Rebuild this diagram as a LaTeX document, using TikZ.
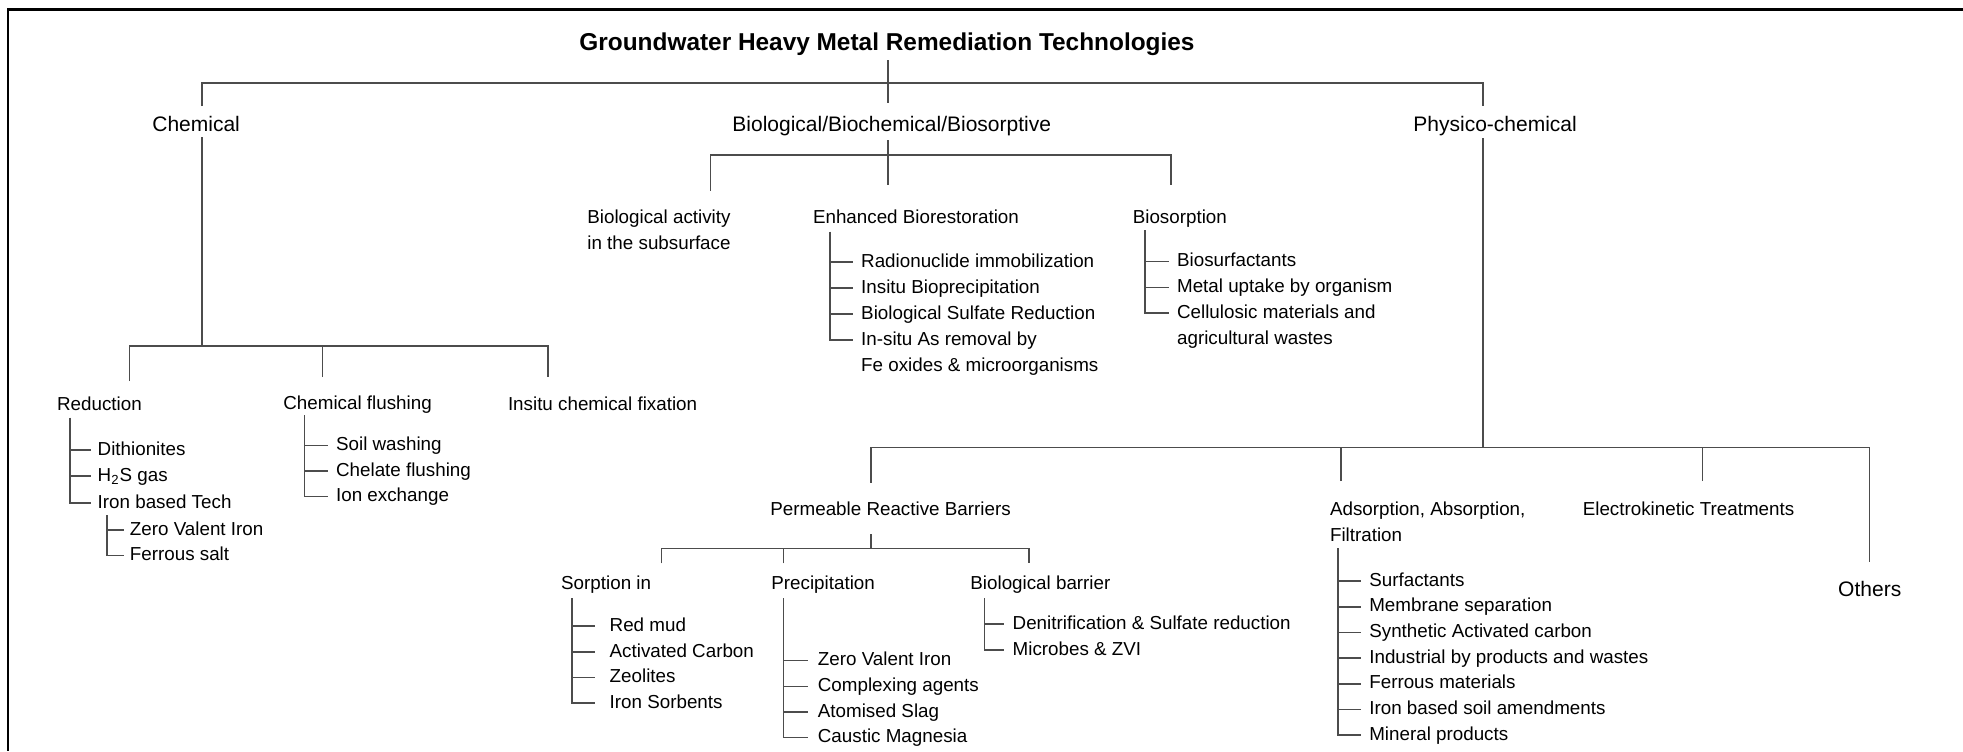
\documentclass[tikz,border=0pt]{standalone}
\usepackage{fontspec}
\setmainfont{Liberation Sans}
\newcommand{\twoln}[2]{\vtop{\hbox{#1}\hbox{#2}}}
\tikzset{
  lbl/.style={anchor=base west, inner sep=0pt, text height=7pt, text depth=2pt,
    font=\fontsize{9.4}{13}\selectfont},
  head/.style={lbl, font=\fontsize{10.5}{13}\selectfont},
  link/.style={draw=black!70, line width=0.8pt},
}
\begin{document}
\begin{tikzpicture}[x=0.5pt, y=-0.5pt]
  \useasboundingbox (0,0) rectangle (1963,751);
  \draw[line width=1.3pt] (1963,9.5) -- (8,9.5) -- (8,751);

  \node[lbl, font=\bfseries\fontsize{12.2}{14}\selectfont] (ttl) at (579,50) {Groundwater Heavy Metal Remediation Technologies};
  \node[head] (chem) at (152,131.7) {Chemical};
  \node[head] (bio) at (732,131.7) {Biological/Biochemical/Biosorptive};
  \node[head] (phys) at (1413,131.7) {Physico-chemical};

  \node[lbl] (redu) at (56.7,410) {Reduction};
  \node[lbl] (flush) at (283,409) {Chemical flushing};
  \node[lbl] (fix) at (507.6,410) {Insitu chemical fixation};
  \node[lbl] (dith) at (97.3,455) {Dithionites};
  \node[lbl] (h2s) at (97.3,481) {H\textsubscript{2}S gas};
  \node[lbl] (ironb) at (97.3,508) {Iron based Tech};
  \node[lbl] (zvi1) at (129.5,535) {Zero Valent Iron};
  \node[lbl] (fsalt) at (129.5,560.5) {Ferrous salt};
  \node[lbl] (soilw) at (335.7,450.5) {Soil washing};
  \node[lbl] (chel) at (335.7,476) {Chelate flushing};
  \node[lbl] (ionx) at (335.7,501.5) {Ion exchange};

  \node[lbl] (act) at (587,223.2) {\twoln{Biological activity}{in the subsurface}};
  \node[lbl] (enh) at (812.6,223.2) {Enhanced Biorestoration};
  \node[lbl] (bsorp) at (1132.4,223.2) {Biosorption};
  \node[lbl] (radio) at (860.8,267.2) {Radionuclide immobilization};
  \node[lbl] (biop) at (860.8,293.2) {Insitu Bioprecipitation};
  \node[lbl] (bsr) at (860.8,319) {Biological Sulfate Reduction};
  \node[lbl] (asrem) at (860.8,345) {\twoln{In-situ As removal by}{Fe oxides \& microorganisms}};
  \node[lbl] (bsurf) at (1176.7,266.5) {Biosurfactants};
  \node[lbl] (mupt) at (1176.7,292.5) {Metal uptake by organism};
  \node[lbl] (cell) at (1176.7,318) {\twoln{Cellulosic materials and}{agricultural wastes}};

  \node[lbl] (prb) at (770,515) {Permeable Reactive Barriers};
  \node[lbl] (ads) at (1329.6,515) {\twoln{Adsorption, Absorption,}{Filtration}};
  \node[lbl] (elec) at (1582.4,515) {Electrokinetic Treatments};
  \node[head] (oth) at (1837.8,596) {Others};
  \node[lbl] (surf) at (1368.9,586) {Surfactants};
  \node[lbl] (memb) at (1368.9,611.7) {Membrane separation};
  \node[lbl] (sac) at (1368.9,637.4) {Synthetic Activated carbon};
  \node[lbl] (indw) at (1368.9,663.1) {Industrial by products and wastes};
  \node[lbl] (ferr) at (1368.9,688.8) {Ferrous materials};
  \node[lbl] (ibsa) at (1368.9,714.5) {Iron based soil amendments};
  \node[lbl] (mprod) at (1368.9,740.2) {Mineral products};

  \node[lbl] (sorp) at (560.8,589.2) {Sorption in};
  \node[lbl] (prec) at (771,589.2) {Precipitation};
  \node[lbl] (bbar) at (970,589.2) {Biological barrier};
  \node[lbl] (rmud) at (609.3,631) {Red mud};
  \node[lbl] (acarb) at (609.3,657) {Activated Carbon};
  \node[lbl] (zeol) at (609.3,682.5) {Zeolites};
  \node[lbl] (isorb) at (609.3,708) {Iron Sorbents};
  \node[lbl] (zvi2) at (817.5,665.5) {Zero Valent Iron};
  \node[lbl] (cplx) at (817.5,691.5) {Complexing agents};
  \node[lbl] (aslag) at (817.5,717) {Atomised Slag};
  \node[lbl] (cmag) at (817.5,742.5) {Caustic Magnesia};
  \node[lbl] (denit) at (1012.3,629.2) {Denitrification \& Sulfate reduction};
  \node[lbl] (mzvi) at (1012.3,655) {Microbes \& ZVI};

  \coordinate (ttl-b) at (888,60);
  \coordinate (top-j) at (888,83);
  \coordinate (chem-t) at (202,106);
  \coordinate (bio-t) at (888,103);
  \coordinate (phys-t) at (1483,106);
  \coordinate (chem-b) at (202,137);
  \coordinate (chem-j) at (202,345.7);
  \coordinate (redu-t) at (129.5,381);
  \coordinate (flush-t) at (322.3,377);
  \coordinate (fix-t) at (547.8,377);
  \coordinate (bio-b) at (888,140);
  \coordinate (bio-j) at (888,155);
  \coordinate (act-t) at (710.5,190.7);
  \coordinate (enh-t) at (888,185);
  \coordinate (bsorp-t) at (1170.7,185);
  \coordinate (phys-b) at (1483,138);
  \coordinate (phys-j) at (1483,447.3);
  \coordinate (prb-t) at (871,482.7);
  \coordinate (ads-t) at (1341,481);
  \coordinate (elec-t) at (1702.5,481);
  \coordinate (oth-t) at (1869.5,561.7);
  \coordinate (prb-b) at (871,534.3);
  \coordinate (prb-j) at (871,548.3);
  \coordinate (sorp-t) at (661.3,563.3);
  \coordinate (prec-t) at (783.5,563.3);
  \coordinate (bbar-t) at (1029,563.3);

  \coordinate (redu-v) at (70,417.7);
  \coordinate (ironb-v) at (107,515);
  \coordinate (flush-v) at (304.5,415);
  \coordinate (enh-v) at (829.7,231.7);
  \coordinate (bsorp-v) at (1144.8,230);
  \coordinate (ads-v) at (1338,548.3);
  \coordinate (sorp-v) at (572,598.3);
  \coordinate (prec-v) at (783.5,598.3);
  \coordinate (bbar-v) at (984.3,598.3);

  \begin{scope}[link]
    \draw (ttl-b) -- (bio-t);
    \draw (chem-t) -- (chem-t |- top-j) -- (phys-t |- top-j) -- (phys-t);
    \draw (chem-b) -- (chem-j);
    \draw (redu-t) -- (redu-t |- chem-j) -- (fix-t |- chem-j) -- (fix-t);
    \draw (flush-t) -- (flush-t |- chem-j);
    \draw (bio-b) -- (enh-t);
    \draw (act-t) -- (act-t |- bio-j) -- (bsorp-t |- bio-j) -- (bsorp-t);
    \draw (phys-b) -- (phys-j);
    \draw (prb-t) -- (prb-t |- phys-j) -- (oth-t |- phys-j) -- (oth-t);
    \draw (ads-t) -- (ads-t |- phys-j);
    \draw (elec-t) -- (elec-t |- phys-j);
    \draw (prb-b) -- (prb-j);
    \draw (sorp-t) -- (sorp-t |- prb-j) -- (bbar-t |- prb-j) -- (bbar-t);
    \draw (prec-t) -- (prec-t |- prb-j);

    \draw (redu-v |- dith.west) -- ([xshift=-3pt]dith.west);
    \draw (redu-v |- h2s.west) -- ([xshift=-3pt]h2s.west);
    \draw (redu-v) |- ([xshift=-3pt]ironb.west);
    \draw (ironb-v |- zvi1.west) -- ([xshift=-3pt]zvi1.west);
    \draw (ironb-v) |- ([xshift=-3pt]fsalt.west);
    \draw (flush-v |- soilw.west) -- ([xshift=-4pt]soilw.west);
    \draw (flush-v |- chel.west) -- ([xshift=-4pt]chel.west);
    \draw (flush-v) |- ([xshift=-4pt]ionx.west);

    \draw (enh-v |- radio.west) -- ([xshift=-4pt]radio.west);
    \draw (enh-v |- biop.west) -- ([xshift=-4pt]biop.west);
    \draw (enh-v |- bsr.west) -- ([xshift=-4pt]bsr.west);
    \draw (enh-v) |- ([xshift=-4pt]asrem.west);
    \draw (bsorp-v |- bsurf.west) -- ([xshift=-4pt]bsurf.west);
    \draw (bsorp-v |- mupt.west) -- ([xshift=-4pt]mupt.west);
    \draw (bsorp-v) |- ([xshift=-4pt]cell.west);

    \draw (ads-v |- surf.west) -- ([xshift=-4pt]surf.west);
    \draw (ads-v |- memb.west) -- ([xshift=-4pt]memb.west);
    \draw (ads-v |- sac.west) -- ([xshift=-4pt]sac.west);
    \draw (ads-v |- indw.west) -- ([xshift=-4pt]indw.west);
    \draw (ads-v |- ferr.west) -- ([xshift=-4pt]ferr.west);
    \draw (ads-v |- ibsa.west) -- ([xshift=-4pt]ibsa.west);
    \draw (ads-v) |- ([xshift=-4pt]mprod.west);

    \draw (sorp-v |- rmud.west) -- ([xshift=-7pt]rmud.west);
    \draw (sorp-v |- acarb.west) -- ([xshift=-7pt]acarb.west);
    \draw (sorp-v |- zeol.west) -- ([xshift=-7pt]zeol.west);
    \draw (sorp-v) |- ([xshift=-7pt]isorb.west);
    \draw (prec-v |- zvi2.west) -- ([xshift=-5pt]zvi2.west);
    \draw (prec-v |- cplx.west) -- ([xshift=-5pt]cplx.west);
    \draw (prec-v |- aslag.west) -- ([xshift=-5pt]aslag.west);
    \draw (prec-v) |- ([xshift=-5pt]cmag.west);
    \draw (bbar-v |- denit.west) -- ([xshift=-4pt]denit.west);
    \draw (bbar-v) |- ([xshift=-4pt]mzvi.west);
  \end{scope}
\end{tikzpicture}
\end{document}
